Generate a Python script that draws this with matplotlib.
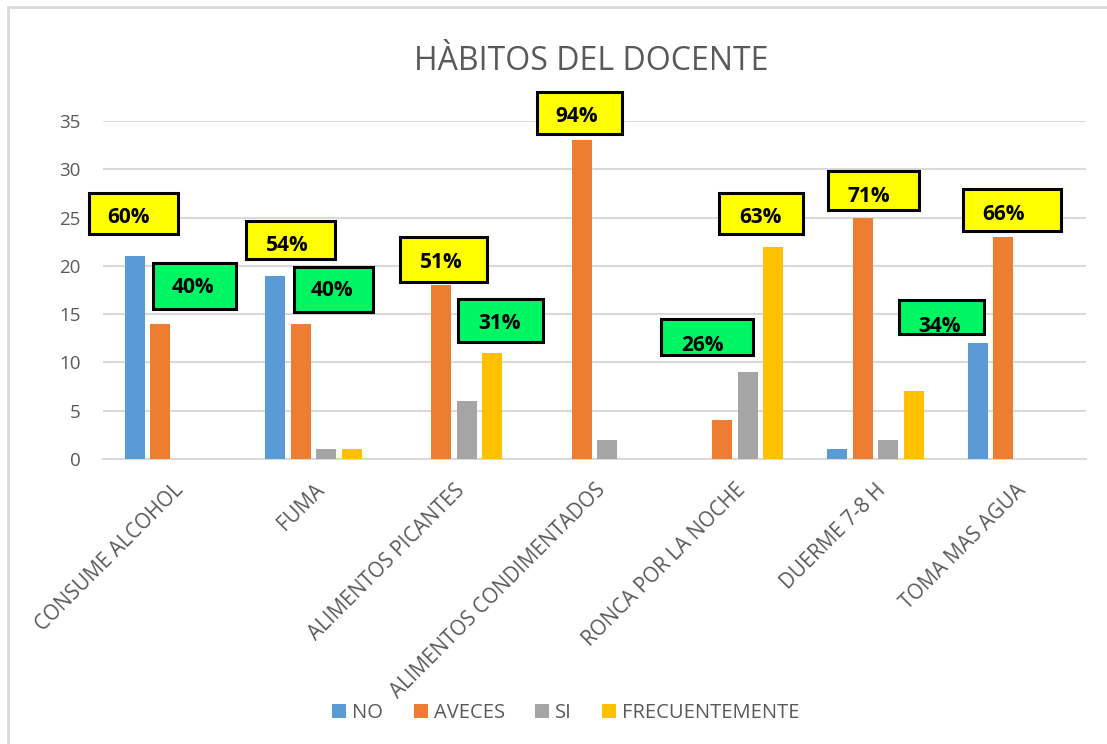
import numpy as np
import matplotlib
matplotlib.use("Agg")
import matplotlib.pyplot as plt
from matplotlib.patches import Rectangle, Patch

plt.rcParams["font.family"] = ["Open Sans", "DejaVu Sans"]

# data
categories = ["CONSUME ALCOHOL", "FUMA", "ALIMENTOS PICANTES", "ALIMENTOS CONDIMENTADOS",
              "RONCA POR LA NOCHE", "DUERME 7-8 H", "TOMA MAS AGUA"]
series_names = ["NO", "AVECES", "SI", "FRECUENTEMENTE"]
no_vals = [21, 19, 0, 0, 0, 1, 12]
aveces_vals = [14, 14, 18, 33, 4, 25, 23]
si_vals = [0, 1, 6, 2, 9, 2, 0]
frec_vals = [0, 1, 11, 0, 22, 7, 0]
yticks = [0, 5, 10, 15, 20, 25, 30, 35]

pct_labels = ["60%", "40%", "54%", "40%", "51%", "31%", "94%", "26%", "63%", "71%", "34%", "66%"]
pct_kind = ["y", "g", "y", "g", "y", "g", "y", "g", "y", "y", "g", "y"]

# box layout (data coords): x0, x1, y0, y1, text x, text y
box_pos = [
    (-0.601, 0.033, 23.30, 27.51, -0.316, 24.96),
    (-0.146, 0.446, 15.50, 20.33, 0.142, 17.78),
    (0.520, 1.154, 20.74, 24.65, 0.810, 22.09),
    (0.862, 1.424, 15.25, 19.88, 1.132, 17.50),
    (1.616, 2.236, 18.36, 23.02, 1.908, 20.33),
    (2.030, 2.635, 12.12, 16.57, 2.321, 13.98),
    (2.588, 3.196, 33.62, 38.03, 2.870, 35.45),
    (3.475, 4.130, 10.80, 14.53, 3.766, 11.80),
    (3.888, 4.486, 23.30, 27.54, 4.180, 24.96),
    (4.661, 5.312, 25.78, 29.85, 4.956, 27.16),
    (5.166, 5.772, 12.94, 16.46, 5.455, 13.77),
    (5.622, 6.321, 23.64, 27.99, 5.915, 25.27),
]

COLORS = ["#5B9BD5", "#ED7D31", "#A5A5A5", "#FFC000"]
BOXC = {"y": "#FFFF00", "g": "#00F562"}
TXT = "#595959"
GRID = "#D9D9D9"

fig = plt.figure(figsize=(11.07, 7.44), dpi=100)
ax = fig.add_axes([103 / 1107, 1 - 459 / 744, (1086 - 103) / 1107, (459 - 121) / 744])

x = np.arange(len(categories))
step = 0.1817
width = 0.1425
all_vals = [no_vals, aveces_vals, si_vals, frec_vals]
for i, (vals, c, name) in enumerate(zip(all_vals, COLORS, series_names)):
    ax.bar(x + (i - 1.5) * step, vals, width=width, color=c, label=name, zorder=3)

ax.set_xlim(-0.5, len(categories) - 0.5)
ax.set_ylim(0, 35)
ax.set_yticks(yticks)
ax.grid(axis="y", color=GRID, linewidth=1.5, zorder=0)
for s in ["top", "right", "left"]:
    ax.spines[s].set_visible(False)
ax.spines["bottom"].set_color(GRID)
ax.spines["bottom"].set_linewidth(1.5)
ax.tick_params(length=0, labelsize=13.5, labelcolor=TXT)
ax.tick_params(axis="y", pad=16)
ax.set_xticks(x)
ax.set_xticklabels(categories, rotation=45, ha="right", rotation_mode="anchor", fontsize=14.8)
ax.tick_params(axis="x", pad=15)

for lab, kind, (x0, x1, y0, y1, tx, ty) in zip(pct_labels, pct_kind, box_pos):
    ax.add_patch(Rectangle((x0, y0), x1 - x0, y1 - y0, facecolor=BOXC[kind],
                           edgecolor="black", linewidth=2.2, zorder=5, clip_on=False))
    ax.text(tx, ty, lab, ha="center", va="center", fontsize=15, fontweight="bold",
            color="black", zorder=6, clip_on=False)

fig.text(591 / 1107, 1 - 62 / 744, "HÀBITOS DEL DOCENTE", ha="center", va="center",
         fontsize=23, color=TXT)

handles = [Patch(facecolor=c, label=n) for c, n in zip(COLORS, series_names)]
fig.legend(handles=handles, loc="center", bbox_to_anchor=(566 / 1107, 1 - 713 / 744),
           ncol=4, frameon=False, fontsize=14.5, handlelength=0.7, handleheight=0.7,
           handletextpad=0.3, columnspacing=1.5, labelcolor=TXT)

# chart border
fig.patches.append(Rectangle((8 / 1107, -0.1), 1.2, 1 - 7 / 744 + 0.1, transform=fig.transFigure,
                             fill=False, edgecolor=GRID, linewidth=2))

fig.savefig("out.png", dpi=100, facecolor="white")
